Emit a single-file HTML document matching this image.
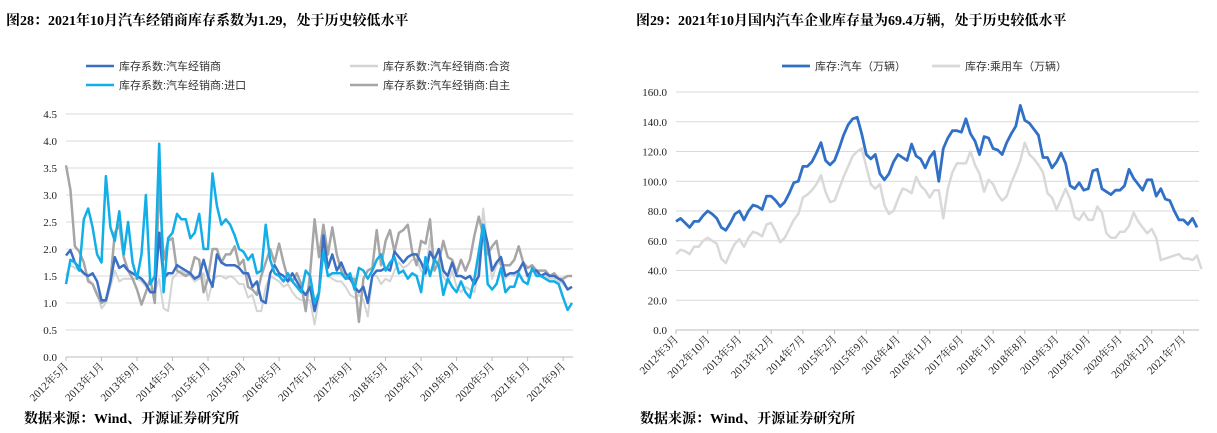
<!DOCTYPE html>
<html><head><meta charset="utf-8"><style>
html,body{margin:0;padding:0;background:#fff;}
svg{display:block;font-family:"Liberation Serif","Noto Serif CJK SC",serif;}
.t{font-weight:bold;font-size:14px;fill:#000;}
.tick{font-size:11px;fill:#222;}
.lg{font-size:11px;fill:#333;font-family:"Liberation Sans","Noto Sans CJK SC",sans-serif;}
</style></head><body>
<svg id="s" width="1217" height="433" viewBox="0 0 1217 433">
<text x="6" y="25" class="t">图28：2021年10月汽车经销商库存系数为1.29，处于历史较低水平</text>
<text x="636" y="25" class="t">图29：2021年10月国内汽车企业库存量为69.4万辆，处于历史较低水平</text>
<text x="24" y="423" class="t">数据来源：Wind、开源证券研究所</text>
<text x="640" y="423" class="t">数据来源：Wind、开源证券研究所</text>
<g id="L"></g>
<g id="R"></g>
</svg>
<script>
const leftTicks=["0.0","0.5","1.0","1.5","2.0","2.5","3.0","3.5","4.0","4.5"];
const leftXLabels=["2012年5月","2013年1月","2013年9月","2014年5月","2015年1月","2015年9月","2016年5月","2017年1月","2017年9月","2018年5月","2019年1月","2019年9月","2020年5月","2021年1月","2021年9月"];
const dealerAll=[1.88,1.98,1.75,1.65,1.55,1.5,1.55,1.4,1.05,1.05,1.4,1.85,1.65,1.7,1.6,1.55,1.5,1.45,1.35,1.2,1.2,2.3,1.45,1.55,1.55,1.7,1.65,1.6,1.55,1.45,1.5,1.8,1.5,1.3,1.9,1.75,1.7,1.7,1.7,1.65,1.55,1.55,1.3,1.4,1.05,1.0,1.55,1.7,1.55,1.5,1.4,1.55,1.4,1.25,1.15,1.3,0.85,1.2,2.25,1.65,1.9,1.6,1.75,1.55,1.45,1.3,1.2,1.3,1.0,1.5,1.6,1.6,1.65,1.6,1.95,1.85,1.75,1.85,1.9,1.9,1.75,1.55,1.95,1.8,2.0,1.6,1.5,1.75,1.5,1.5,1.45,1.5,1.35,1.5,2.45,2.1,1.6,1.75,1.85,1.5,1.55,1.55,1.6,1.75,1.5,1.6,1.6,1.5,1.55,1.5,1.5,1.45,1.4,1.25,1.3];
const dealerJV=[1.5,1.7,1.65,1.6,1.55,1.45,1.35,1.2,0.9,1.0,1.3,1.6,1.4,1.45,1.45,1.45,1.45,1.4,1.3,1.25,1.2,1.45,0.9,0.85,1.45,1.55,1.6,1.55,1.5,1.4,1.45,1.55,1.05,1.4,1.5,1.5,1.45,1.5,1.45,1.35,1.35,1.1,1.15,0.85,0.85,1.3,1.5,1.45,1.4,1.3,1.35,1.2,1.1,1.05,1.05,1.05,0.6,1.1,2.1,1.5,1.45,1.4,1.4,1.3,1.15,1.1,1.15,1.05,0.75,1.5,1.5,1.35,1.45,1.4,1.6,1.75,1.65,1.7,1.8,1.8,1.6,1.5,2.2,1.7,1.8,1.5,1.35,1.6,1.3,1.2,1.3,1.25,1.2,1.7,2.75,2.0,1.45,1.7,1.8,1.45,1.55,1.5,1.55,1.75,1.45,1.6,1.55,1.5,1.5,1.45,1.45,1.4,1.35,1.25,1.3];
const dealerImport=[1.35,1.8,1.75,1.6,2.55,2.75,2.4,1.9,1.75,3.35,2.4,2.15,2.7,1.9,2.5,1.75,1.45,1.9,3.0,1.35,1.5,3.95,1.2,2.2,2.3,2.65,2.55,2.55,2.2,2.3,2.65,2.0,2.0,3.4,2.8,2.45,2.55,2.45,2.25,2.0,1.95,1.8,1.9,1.55,1.6,2.45,1.8,1.55,1.5,1.4,1.55,1.4,1.3,1.2,1.6,1.5,1.0,1.2,1.95,1.5,1.55,1.55,1.55,1.45,1.55,1.25,1.65,1.6,1.45,1.6,1.8,1.9,1.6,1.75,1.85,1.55,1.6,1.45,1.55,1.5,1.2,1.85,1.5,1.8,1.7,1.15,1.45,1.3,1.2,1.4,1.2,1.1,1.45,1.95,2.45,1.35,1.25,1.35,1.65,1.2,1.3,1.3,1.55,1.4,1.35,1.65,1.5,1.5,1.45,1.4,1.4,1.35,1.1,0.87,1.0];
const dealerDomestic=[3.55,3.1,2.05,1.95,1.75,1.4,1.35,1.15,1.0,1.05,1.4,2.3,2.45,1.85,1.6,1.45,1.25,0.97,1.2,1.45,1.0,3.2,1.8,2.15,2.2,1.6,1.55,1.5,1.55,1.85,1.8,1.2,1.45,2.0,2.0,1.75,1.9,1.9,2.05,1.7,1.8,1.3,1.25,1.15,1.5,1.75,2.0,1.75,2.1,1.75,1.45,1.4,1.55,1.35,0.85,1.55,2.55,1.85,2.45,1.9,2.4,1.9,1.6,1.45,1.45,1.45,0.65,1.45,1.6,1.65,2.35,1.7,2.15,2.35,1.95,2.3,2.35,2.45,1.95,1.7,2.15,2.1,2.55,1.6,1.75,2.15,1.85,1.8,1.55,1.8,1.6,1.8,2.25,2.6,2.25,1.9,2.05,2.15,1.7,1.7,1.7,1.8,2.05,1.75,1.65,1.7,1.6,1.6,1.6,1.5,1.55,1.45,1.45,1.5,1.5];
const rightTicks=["0.0","20.0","40.0","60.0","80.0","100.0","120.0","140.0","160.0"];
const rightXLabels=["2012年3月","2012年10月","2013年5月","2013年12月","2014年7月","2015年2月","2015年9月","2016年4月","2016年11月","2017年6月","2018年1月","2018年8月","2019年3月","2019年10月","2020年5月","2020年12月","2021年7月"];
const invCar=[73,75,72,69,73,73,77,80,78,75,69,67,72,78,80,74,80,84,83,81,90,90,87,83,86,92,99,100,110,110,113,119,126,114,111,114,122,131,138,142,143,132,118,115,118,105,101,105,113,118,116,114,125,117,115,109,116,120,100,122,129,134,134,133,142,132,127,118,130,129,122,121,118,126,132,137,151,141,139,135,131,116,116,109,113,119,112,97,95,99,94,95,107,108,95,93,91,94,94,97,108,102,98,94,101,101,90,95,88,87,80,74,74,71,75,69];
const invPassenger=[51,54,53,51,56,56,60,62,60,58,48,45,52,58,61,56,62,66,65,63,71,72,66,59,62,68,74,78,89,91,94,98,104,93,86,87,95,103,110,117,120,122,110,98,95,98,84,78,80,88,95,94,92,103,97,94,89,94,94,75,95,106,112,112,112,120,111,105,93,101,98,91,87,90,99,106,114,126,118,115,111,106,92,89,81,88,95,88,76,74,79,74,74,83,79,65,62,62,66,66,70,79,73,69,65,68,62,47,48,49,50,51,48,48,47,50,41];

const NS="http://www.w3.org/2000/svg";
function mk(parent,tag,attrs){const e=document.createElementNS(NS,tag);for(const k in attrs)e.setAttribute(k,attrs[k]);parent.appendChild(e);return e;}

function chart(g,cfg){
  const {x0,x1,gx1,y0,y1,max,ticks,labels,labelStep,series,n}=cfg;
  const ys=v=>y0-(v/max)*(y0-y1);
  const xs=i=>x0+i*(x1-x0)/(n-1);
  ticks.forEach((t,i)=>{
    const v=parseFloat(t);
    const l=mk(g,'line',{x1:x0,x2:gx1,y1:ys(v),y2:ys(v),stroke:i===0?'#bbb':'#d9d9d9','stroke-width':1});
    
    
    const tx=mk(g,'text',{x:x0-9,y:ys(v)+4,'text-anchor':'end',class:'tick'});
    tx.textContent=t;
    
    
  });
  labels.forEach((lb,i)=>{
    const x=xs(i*labelStep);
    const tk=mk(g,'line',{x1:x,x2:x,y1:y0,y2:y0+4,stroke:'#bbb'});
    
    
    const tx=mk(g,'text',{x:x+3,y:y0+10,'text-anchor':'end',class:'tick',transform:`rotate(-45 ${x+3} ${y0+10})`});
    tx.textContent=lb;
    
    
  });
  series.forEach(s=>{
    const d=s.data.map((v,i)=>(i?'L':'M')+xs(i).toFixed(1)+','+ys(v).toFixed(1)).join('');
    const p=mk(g,'path',{d:d,fill:'none',stroke:s.color,'stroke-width':s.w,'stroke-linejoin':'round'});
    
    
  });
}
function legend(g,x,y,color,w,label,name){
  const lg=mk(g,'g',{});
  
  
  mk(lg,'line',{x1:x,x2:x+28,y1:y,y2:y,stroke:color,'stroke-width':w});
  const t=mk(lg,'text',{x:x+33,y:y+4,class:'lg'});t.textContent=label;
}
const L=document.getElementById('L'),R=document.getElementById('R');
chart(L,{x0:66,x1:572,gx1:573,y0:357,y1:114,max:4.5,ticks:leftTicks,labels:leftXLabels,labelStep:8,n:dealerAll.length,
 series:[{data:dealerJV,color:'#d4d4d4',w:2,name:'series-jv-line'},{data:dealerDomestic,color:'#a6a6a6',w:2.5,name:'series-domestic-line'},{data:dealerAll,color:'#3a6fc4',w:2.5,name:'series-dealer-line'},{data:dealerImport,color:'#12aee8',w:2.5,name:'series-import-line'}]});
chart(R,{x0:676,x1:1197,gx1:1199,y0:330,y1:92,max:160,ticks:rightTicks,labels:rightXLabels,labelStep:7,n:invCar.length,
 series:[{data:invPassenger,color:'#d9d9d9',w:2.5,name:'series-passenger-line'},{data:invCar,color:'#3070c6',w:2.8,name:'series-car-line'}]});
legend(L,86,66,'#3a6fc4',2.5,'库存系数:汽车经销商','legend-dealer');
legend(L,350,66,'#d4d4d4',2.5,'库存系数:汽车经销商:合资','legend-jv');
legend(L,86,85,'#12aee8',2.5,'库存系数:汽车经销商:进口','legend-import');
legend(L,350,85,'#a6a6a6',2.5,'库存系数:汽车经销商:自主','legend-domestic');
legend(R,782,66,'#3070c6',2.8,'库存:汽车（万辆）','legend-car');
legend(R,932,66,'#d9d9d9',2.8,'库存:乘用车（万辆）','legend-passenger');
</script>
</body></html>
